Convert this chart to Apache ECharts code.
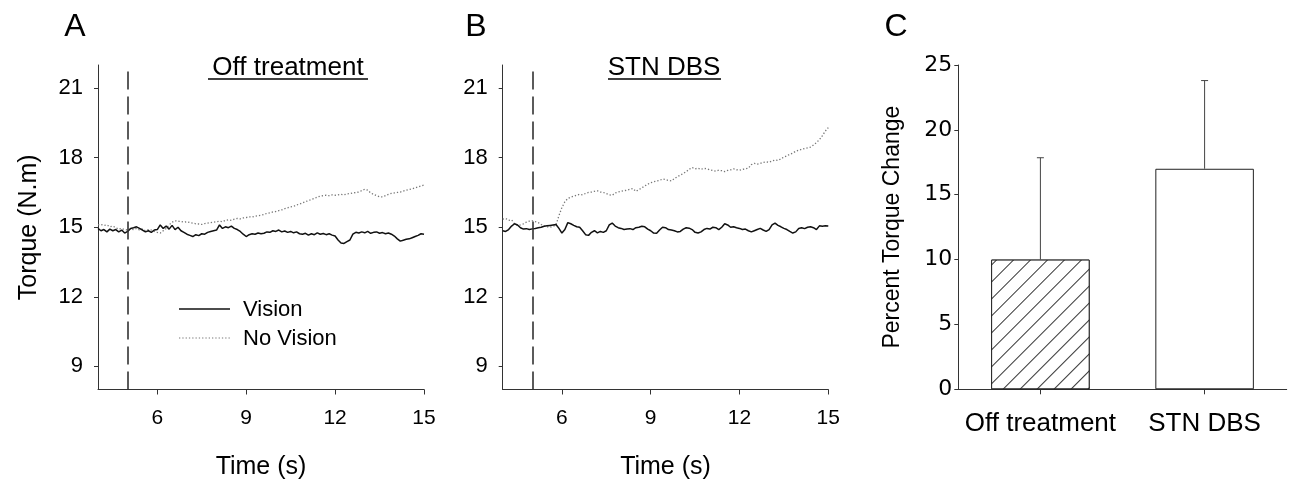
<!DOCTYPE html>
<html>
<head>
<meta charset="utf-8">
<script src="https://cdn.jsdelivr.net/npm/echarts@6/dist/echarts.min.js"></script>
<style>
html,body{margin:0;padding:0;background:#fff;}
#chart{width:1294px;height:485px;}
</style>
</head>
<body>
<div id="chart"></div>
<script>
// ---------- DATA ----------
const timeSec = [4.0,4.1,4.2,4.3,4.4,4.5,4.6,4.7,4.8,4.9,5.0,5.1,5.2,5.3,5.4,5.5,5.6,5.7,5.8,5.9,
  6.0,6.1,6.2,6.3,6.4,6.5,6.6,6.7,6.8,6.9,7.0,7.1,7.2,7.3,7.4,7.5,7.6,7.7,7.8,7.9,
  8.0,8.1,8.2,8.3,8.4,8.5,8.6,8.7,8.8,8.9,9.0,9.1,9.2,9.3,9.4,9.5,9.6,9.7,9.8,9.9,
  10.0,10.1,10.2,10.3,10.4,10.5,10.6,10.7,10.8,10.9,11.0,11.1,11.2,11.3,11.4,11.5,11.6,11.7,11.8,11.9,
  12.0,12.1,12.2,12.3,12.4,12.5,12.6,12.7,12.8,12.9,13.0,13.1,13.2,13.3,13.4,13.5,13.6,13.7,13.8,13.9,
  14.0,14.1,14.2,14.3,14.4,14.5,14.6,14.7,14.8,14.9,15.0];

const offVision = [14.95,14.85,14.9,14.8,14.92,14.85,14.9,14.8,14.88,14.75,
  14.82,14.95,14.98,15.02,14.95,14.88,14.8,14.85,14.78,14.88,
  14.9,15.1,14.95,15.05,14.92,15.08,14.9,15.0,14.85,14.78,
  14.7,14.65,14.6,14.68,14.64,14.72,14.7,14.78,14.82,14.85,
  14.88,15.1,14.95,15.02,14.98,15.05,14.95,14.9,14.82,14.7,
  14.6,14.68,14.72,14.7,14.75,14.72,14.74,14.8,14.78,14.85,
  14.82,14.88,14.8,14.84,14.78,14.82,14.76,14.8,14.72,14.7,
  14.74,14.66,14.72,14.68,14.76,14.7,14.73,14.68,14.72,14.66,
  14.62,14.45,14.32,14.3,14.38,14.45,14.7,14.78,14.75,14.8,
  14.76,14.82,14.74,14.78,14.8,14.74,14.77,14.72,14.75,14.7,
  14.62,14.5,14.4,14.44,14.48,14.5,14.55,14.6,14.65,14.72,14.7];

const offNoVision = [15.1,15.12,15.08,15.1,15.02,15.05,14.98,14.92,14.95,14.9,
  14.88,14.92,14.9,14.95,14.88,14.92,14.85,14.9,14.88,14.82,
  14.78,14.75,14.85,14.95,15.1,15.22,15.28,15.26,15.25,15.22,
  15.24,15.2,15.18,15.15,15.14,15.12,15.16,15.18,15.2,15.22,
  15.24,15.26,15.24,15.3,15.32,15.3,15.35,15.38,15.36,15.4,
  15.42,15.45,15.44,15.48,15.5,15.52,15.55,15.6,15.62,15.66,
  15.68,15.72,15.75,15.8,15.84,15.88,15.9,15.96,16.0,16.05,
  16.1,16.15,16.2,16.24,16.3,16.34,16.36,16.38,16.36,16.4,
  16.38,16.4,16.42,16.4,16.44,16.45,16.48,16.5,16.52,16.58,
  16.64,16.6,16.48,16.42,16.36,16.32,16.31,16.36,16.42,16.46,
  16.48,16.5,16.52,16.56,16.6,16.63,16.66,16.7,16.74,16.78,16.82];

const dbsVision = [14.85,14.82,14.9,15.05,15.15,15.1,14.98,14.92,14.94,14.9,
  14.93,14.95,14.98,15.0,15.04,15.06,15.08,15.1,15.12,14.95,
  14.75,14.9,15.2,15.15,15.08,15.02,15.0,14.85,14.68,14.65,
  14.78,14.85,14.76,14.82,14.78,14.85,15.1,15.18,15.05,14.98,
  14.95,14.9,14.92,14.94,14.9,14.98,15.0,15.04,15.02,14.92,
  14.85,14.75,14.74,14.88,15.0,14.98,14.9,14.88,14.85,14.8,
  14.82,14.92,14.98,14.96,14.9,14.78,14.75,14.8,14.9,14.95,
  14.92,15.0,14.98,14.9,15.0,15.15,15.1,15.0,15.02,14.98,
  14.95,14.9,14.92,14.85,14.8,14.85,14.9,14.95,14.88,14.82,
  14.9,15.1,15.18,15.08,15.02,14.95,14.9,14.82,14.75,14.8,
  14.95,14.98,14.94,15.0,15.02,14.98,14.9,15.06,15.04,15.06,15.05];

const dbsNoVision = [15.35,15.38,15.3,15.32,15.15,15.08,15.1,15.15,15.22,15.26,
  15.28,15.24,15.2,15.12,15.06,15.02,15.0,15.04,15.1,15.5,
  15.85,16.1,16.24,16.3,16.34,16.38,16.42,16.4,16.46,16.5,
  16.52,16.55,16.57,16.52,16.5,16.45,16.4,16.38,16.48,16.52,
  16.55,16.58,16.6,16.64,16.67,16.55,16.62,16.7,16.78,16.86,
  16.92,16.96,17.0,17.02,17.08,17.06,17.02,17.0,17.1,17.18,
  17.25,17.32,17.4,17.5,17.58,17.52,17.55,17.5,17.54,17.52,
  17.48,17.45,17.42,17.46,17.44,17.4,17.45,17.48,17.52,17.48,
  17.46,17.5,17.52,17.55,17.7,17.76,17.72,17.75,17.8,17.82,
  17.8,17.86,17.9,17.88,17.95,18.03,18.08,18.15,18.2,18.28,
  18.32,18.36,18.4,18.42,18.46,18.55,18.65,18.78,18.95,19.15,19.3];

const stimTime = 5;
const timeTicks = [6, 9, 12, 15];
const torqueTicks = [9, 12, 15, 18, 21];
const legendNames = ['Vision', 'No Vision'];

const barCategories = ['Off treatment', 'STN DBS'];
const barValues = [10, 17];
const barErrors = [7.85, 6.8];

// ---------- CHART ----------
const FONT = '"Liberation Sans", Arial, sans-serif';
const AX = '#333';
const VIS_STYLE = {color: '#111', width: 1.5};
const NOVIS_STYLE = {color: '#777', width: 1.3, type: [1.3, 2]};
const chart = echarts.init(document.getElementById('chart'), null, {renderer: 'canvas'});

function pairs(xs, ys) { return xs.map((x, i) => [x, ys[i]]); }

function timeAxis(gridIndex) {
  return {
    type: 'value', gridIndex, min: 4, max: 15,
    name: 'Time (s)', nameLocation: 'middle', nameGap: 65,
    nameTextStyle: {fontFamily: FONT, fontSize: 25, color: '#000'},
    axisLine: {show: true, lineStyle: {color: AX, width: 1}},
    axisTick: {show: true, length: 5, customValues: timeTicks, lineStyle: {color: AX}},
    axisLabel: {customValues: timeTicks, margin: 18, fontFamily: FONT, fontSize: 21, color: '#000'},
    splitLine: {show: false}
  };
}
function torqueAxis(gridIndex, withName) {
  return {
    type: 'value', gridIndex, min: 8, max: 22,
    name: withName ? 'Torque (N.m)' : '', nameLocation: 'middle', nameGap: 56,
    nameTextStyle: {fontFamily: FONT, fontSize: 25, color: '#000'},
    axisLine: {show: true, lineStyle: {color: AX, width: 1}},
    axisTick: {show: true, length: 4, customValues: torqueTicks, lineStyle: {color: AX}},
    axisLabel: {customValues: torqueTicks, margin: 15, fontFamily: FONT, fontSize: 22, color: '#000'},
    splitLine: {show: false}
  };
}
function visionSeries(idx, ys) {
  return {
    name: legendNames[0], type: 'line', xAxisIndex: idx, yAxisIndex: idx,
    data: pairs(timeSec, ys), showSymbol: false, symbol: 'none',
    lineStyle: VIS_STYLE, itemStyle: {color: VIS_STYLE.color},
    z: 3, animation: false,
    markLine: {
      symbol: 'none', silent: true, animation: false, label: {show: false},
      lineStyle: {type: [18, 7], color: '#333', width: 1.6},
      data: [{xAxis: stimTime}]
    }
  };
}
function noVisionSeries(idx, ys) {
  return {
    name: legendNames[1], type: 'line', xAxisIndex: idx, yAxisIndex: idx,
    data: pairs(timeSec, ys), showSymbol: false, symbol: 'none',
    lineStyle: NOVIS_STYLE, itemStyle: {color: NOVIS_STYLE.color},
    z: 2, animation: false
  };
}

function textEl(text, x, y, size, align) {
  return {type: 'text', x, y, style: {text, fontFamily: FONT, fontSize: size, fill: '#000', align: align || 'center', verticalAlign: 'middle'}};
}
function hline(x1, x2, y, style) {
  return {type: 'line', shape: {x1, y1: y, x2, y2: y}, style};
}

const option = {
  backgroundColor: '#fff',
  animation: false,
  grid: [
    {left: 98, top: 65, width: 326, height: 324.5},
    {left: 502.7, top: 65, width: 325.6, height: 324.5},
    {left: 958.3, top: 65, width: 328.4, height: 324.3}
  ],
  xAxis: [
    timeAxis(0), timeAxis(1),
    {
      type: 'category', gridIndex: 2, data: barCategories,
      axisLine: {show: true, lineStyle: {color: AX, width: 1}},
      axisTick: {show: true, alignWithLabel: true, length: 5, lineStyle: {color: AX}},
      axisLabel: {interval: 0, margin: 22, fontFamily: FONT, fontSize: 26, color: '#000'}
    }
  ],
  yAxis: [
    torqueAxis(0, true), torqueAxis(1, false),
    {
      type: 'value', gridIndex: 2, min: 0, max: 25, interval: 5,
      name: 'Percent Torque Change', nameLocation: 'middle', nameGap: 54,
      nameTextStyle: {fontFamily: FONT, fontSize: 23, color: '#000'},
      axisLine: {show: true, lineStyle: {color: AX, width: 1}},
      axisTick: {show: true, length: 4, lineStyle: {color: AX}},
      axisLabel: {margin: 6, fontFamily: '"DejaVu Sans", sans-serif', fontSize: 22, color: '#000'},
      splitLine: {show: false}
    }
  ],
  series: [
    noVisionSeries(0, offNoVision),
    visionSeries(0, offVision),
    noVisionSeries(1, dbsNoVision),
    visionSeries(1, dbsVision),
    {
      type: 'bar', xAxisIndex: 2, yAxisIndex: 2, barWidth: '60%',
      data: barValues.map((v, i) => ({
        value: v,
        itemStyle: i === 0 ? {
          color: '#fff', borderColor: '#222', borderWidth: 1,
          decal: {symbol: 'rect', color: '#333', backgroundColor: '#fff',
                  dashArrayX: [1, 0], dashArrayY: [1, 10.5], rotation: -Math.PI / 4}
        } : {color: '#fff', borderColor: '#222', borderWidth: 1}
      })),
      animation: false
    },
    {
      type: 'custom', xAxisIndex: 2, yAxisIndex: 2, z: 5, silent: true,
      data: barValues.map((v, i) => [i, v, v + barErrors[i]]),
      renderItem(params, api) {
        const p1 = api.coord([api.value(0), api.value(1)]);
        const p2 = api.coord([api.value(0), api.value(2)]);
        const st = {stroke: '#444', lineWidth: 1};
        return {type: 'group', children: [
          {type: 'line', shape: {x1: p1[0], y1: p1[1], x2: p2[0], y2: p2[1]}, style: st},
          {type: 'line', shape: {x1: p2[0] - 3.5, y1: p2[1], x2: p2[0] + 3.5, y2: p2[1]}, style: st}
        ]};
      },
      animation: false
    }
  ],
  graphic: [
    textEl('A', 75, 27, 32),
    textEl('B', 476, 27, 32),
    textEl('C', 896, 27, 32),
    textEl('Off treatment', 288, 68, 26),
    hline(208, 368, 79, {stroke: '#000', lineWidth: 1.6}),
    textEl('STN DBS', 664, 68, 26),
    hline(608, 721, 79, {stroke: '#000', lineWidth: 1.6}),
    // legend (panel A)
    hline(179, 230, 309, {stroke: VIS_STYLE.color, lineWidth: VIS_STYLE.width}),
    textEl(legendNames[0], 243, 310, 22, 'left'),
    hline(179, 230, 338, {stroke: NOVIS_STYLE.color, lineWidth: 1.2, lineDash: NOVIS_STYLE.type}),
    textEl(legendNames[1], 243, 339, 22, 'left')
  ]
};
chart.setOption(option);
</script>
</body>
</html>
